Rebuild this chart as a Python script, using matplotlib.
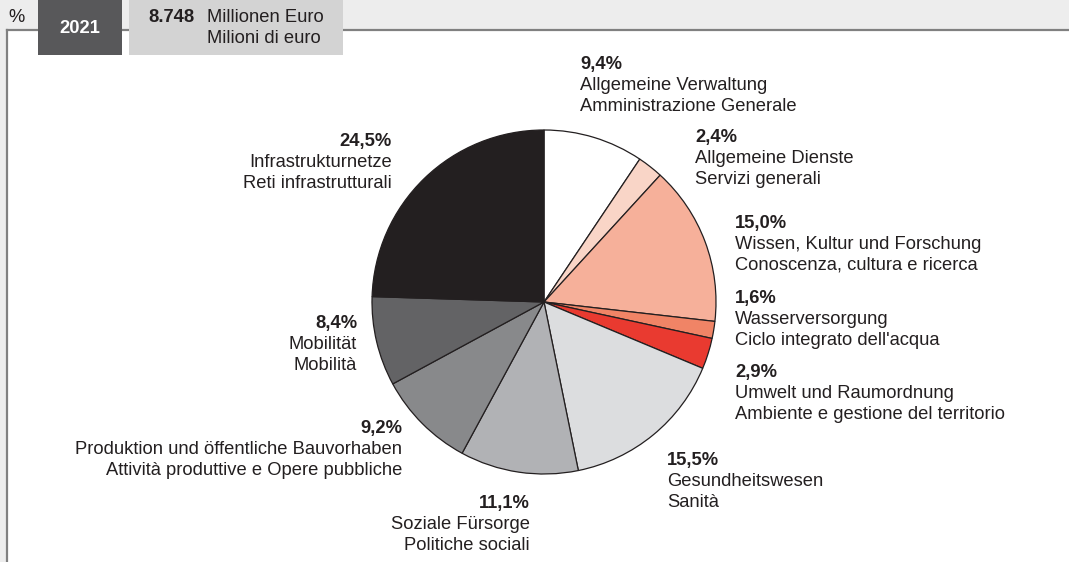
import matplotlib.pyplot as plt
from matplotlib.patches import Rectangle

plt.rcParams['font.family'] = ['Liberation Sans', 'DejaVu Sans']

# data (clockwise from 12 o'clock)
shares = [9.4, 2.4, 15.0, 1.6, 2.9, 15.5, 11.1, 9.2, 8.4, 24.5]
pct_labels = ['9,4%', '2,4%', '15,0%', '1,6%', '2,9%', '15,5%', '11,1%', '9,2%', '8,4%', '24,5%']
names_de = ['Allgemeine Verwaltung', 'Allgemeine Dienste', 'Wissen, Kultur und Forschung',
            'Wasserversorgung', 'Umwelt und Raumordnung', 'Gesundheitswesen',
            'Soziale Fürsorge', 'Produktion und öffentliche Bauvorhaben', 'Mobilität',
            'Infrastrukturnetze']
names_it = ['Amministrazione Generale', 'Servizi generali', 'Conoscenza, cultura e ricerca',
            "Ciclo integrato dell'acqua", 'Ambiente e gestione del territorio', 'Sanità',
            'Politiche sociali', 'Attività produttive e Opere pubbliche', 'Mobilità',
            'Reti infrastrutturali']
colors = ['#ffffff', '#f9d5c7', '#f6b09a', '#f08466', '#e93a30',
          '#dcdddf', '#b1b2b5', '#88898b', '#636365', '#231f20']

year = '2021'
total = '8.748'
unit_de = 'Millionen Euro'
unit_it = 'Milioni di euro'

# label anchor (x, first baseline, alignment) in pixel coords
label_pos = [(580, 69, 'left'), (695, 142, 'left'), (735, 228, 'left'),
             (735, 303, 'left'), (735, 377, 'left'), (667, 465, 'left'),
             (530, 508, 'right'), (402, 433, 'right'), (357, 328, 'right'),
             (392, 146, 'right')]

W, H = 1069, 562
txt = '#231f20'
fs = 13.2

fig = plt.figure(figsize=(W / 100, H / 100), dpi=100)
ax = fig.add_axes([0, 0, 1, 1])
ax.set_xlim(0, W)
ax.set_ylim(H, 0)  # pixel coords, y downwards
ax.set_aspect('equal')
ax.axis('off')

# header band and frame
ax.add_patch(Rectangle((0, 0), W, 29, color='#ededed', lw=0, zorder=0))
ax.add_patch(Rectangle((0, 29), 6, H - 29, color='#ededed', lw=0, zorder=0))
ax.plot([6.5, W], [29.5, 29.5], color='#808080', lw=1.6, zorder=1)
ax.plot([6.5, 6.5], [29.5, H], color='#808080', lw=1.6, zorder=1)
ax.add_patch(Rectangle((38, 0), 84, 55, color='#58585a', lw=0, zorder=2))
ax.add_patch(Rectangle((129, 0), 214, 55, color='#d3d3d3', lw=0, zorder=2))

ax.text(8, 22, '%', fontsize=fs, color=txt, va='baseline')
ax.text(80, 33, year, fontsize=fs, fontweight='bold', color='white', ha='center', va='baseline', zorder=3)
ax.text(148, 22, total, fontsize=fs, fontweight='bold', color=txt, va='baseline', zorder=3)
ax.text(207, 22, unit_de, fontsize=fs, color=txt, va='baseline', zorder=3)
ax.text(207, 43, unit_it, fontsize=fs, color=txt, va='baseline', zorder=3)

# y axis is inverted, so start at 270 and go counterclockwise in data terms
ax.pie(shares, colors=colors, center=(544, 302), radius=172, startangle=270,
       counterclock=True, frame=True,
       wedgeprops=dict(edgecolor=txt, linewidth=0.9))
ax.set_xlim(0, W)
ax.set_ylim(H, 0)
ax.axis('off')

for i in range(len(shares)):
    x, y, ha = label_pos[i]
    ax.text(x, y, pct_labels[i], fontsize=fs, fontweight='bold', color=txt, ha=ha, va='baseline')
    ax.text(x, y + 21, names_de[i], fontsize=fs, color=txt, ha=ha, va='baseline')
    ax.text(x, y + 42, names_it[i], fontsize=fs, color=txt, ha=ha, va='baseline')

fig.savefig('out.png', dpi=100)
